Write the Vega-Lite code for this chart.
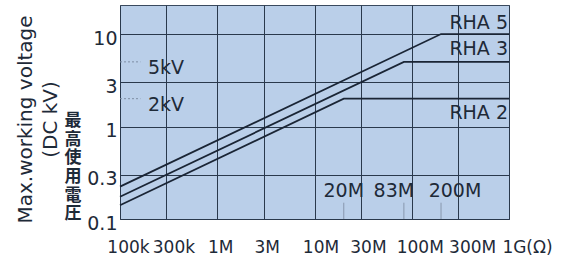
{
  "$schema": "https://vega.github.io/schema/vega-lite/v6.json",
  "width": 389,
  "height": 214,
  "autosize": {"type": "none"},
  "padding": {"left": 120, "top": 5, "right": 57, "bottom": 40},
  "background": "white",
  "config": {
    "view": {"fill": "#bacfe9", "stroke": "#3a4a5e", "strokeWidth": 1},
    "font": "DejaVu Sans",
    "text": {"font": "DejaVu Sans", "fontSize": 19, "color": "#1e2a38"}
  },
  "datasets": {
    "lines": [
      {"series": "RHA 5", "R": 100000, "V": 0.224},
      {"series": "RHA 5", "R": 200000000, "V": 10},
      {"series": "RHA 5", "R": 1000000000, "V": 10},
      {"series": "RHA 3", "R": 100000, "V": 0.174},
      {"series": "RHA 3", "R": 83000000, "V": 5},
      {"series": "RHA 3", "R": 1000000000, "V": 5},
      {"series": "RHA 2", "R": 100000, "V": 0.141},
      {"series": "RHA 2", "R": 20000000, "V": 2},
      {"series": "RHA 2", "R": 1000000000, "V": 2}
    ],
    "knees": [
      {"R": 20000000, "label": "20M"},
      {"R": 83000000, "label": "83M"},
      {"R": 200000000, "label": "200M"}
    ],
    "levels": [
      {"kv": 5, "label": "5kV"},
      {"kv": 2, "label": "2kV"}
    ]
  },
  "layer": [
    {
      "data": {"name": "lines"},
      "mark": {"type": "line", "color": "#1a2535", "strokeWidth": 1.8},
      "encoding": {
        "x": {
          "field": "R", "type": "quantitative",
          "scale": {"type": "log", "domain": [100000, 1000000000], "nice": false},
          "axis": {
            "title": null,
            "values": [100000, 300000, 1000000, 3000000, 10000000, 30000000, 100000000, 300000000, 1000000000],
            "labelExpr": "datum.value < 2e5 ? '100k' : datum.value < 5e5 ? '300k' : datum.value < 2e6 ? '1M' : datum.value < 5e6 ? '3M' : datum.value < 2e7 ? '10M' : datum.value < 5e7 ? '30M' : datum.value < 2e8 ? '100M' : datum.value < 5e8 ? '300M' : '1G(Ω)'",
            "grid": true, "gridColor": "#2a394c", "gridWidth": 1,
            "ticks": false, "tickSize": 0, "domain": false,
            "labelFlush": false, "labelOverlap": false, "labelBound": false,
            "labelFont": "DejaVu Sans", "labelFontSize": 17, "labelColor": "#1e2a38",
            "labelPadding": 28, "labelBaseline": "middle",
            "labelOffset": {
              "condition": [
                {"test": "datum.value < 2e5", "value": 8},
                {"test": "datum.value < 5e5", "value": 7},
                {"test": "datum.value < 5e6", "value": 3},
                {"test": "datum.value < 2e7", "value": 6},
                {"test": "datum.value < 5e7", "value": 7},
                {"test": "datum.value < 2e8", "value": 8},
                {"test": "datum.value < 5e8", "value": 14}
              ],
              "value": 18
            }
          }
        },
        "y": {
          "field": "V", "type": "quantitative",
          "scale": {"type": "log", "domain": [0.1, 20.6], "nice": false},
          "axis": {
            "title": ["Max.working voltage", "(DC kV)"],
            "values": [0.1, 0.3, 1, 3, 10],
            "labelExpr": "datum.value < 0.2 ? '0.1' : datum.value < 0.5 ? '0.3' : datum.value < 2 ? '1' : datum.value < 5 ? '3' : '10'",
            "grid": true, "gridColor": "#2a394c", "gridWidth": 1,
            "ticks": false, "tickSize": 0, "domain": false,
            "labelFlush": false, "labelOverlap": false, "labelBound": false,
            "labelFont": "DejaVu Sans", "labelFontSize": 19, "labelColor": "#1e2a38",
            "labelPadding": 3, "labelOffset": 4,
            "titleFont": "DejaVu Sans", "titleFontSize": 20, "titleFontWeight": "normal",
            "titleColor": "#1e2a38", "titleX": -95, "titleY": 114, "titleAngle": -90,
            "titleAlign": "center", "titleBaseline": "middle", "titleLineHeight": 25
          }
        },
        "detail": {"field": "series"}
      }
    },
    {
      "data": {"name": "knees"},
      "mark": {"type": "rule", "color": "#8797ad", "strokeWidth": 1},
      "encoding": {
        "x": {"field": "R", "type": "quantitative"},
        "y": {"datum": 0.1},
        "y2": {"datum": 0.15}
      }
    },
    {
      "data": {"name": "knees"},
      "mark": {"type": "text", "align": "center", "baseline": "middle",
               "dx": {"expr": "datum.label == '83M' ? -10 : datum.label == '200M' ? 14 : 0"}},
      "encoding": {
        "x": {"field": "R", "type": "quantitative"},
        "y": {"datum": 0.2},
        "text": {"field": "label"}
      }
    },
    {
      "data": {"name": "levels"},
      "mark": {"type": "rule", "color": "#7e8ea4", "strokeWidth": 1, "strokeDash": [2, 2]},
      "encoding": {
        "x": {"datum": 100000},
        "x2": {"datum": 162000},
        "y": {"field": "kv", "type": "quantitative"}
      }
    },
    {
      "data": {"name": "levels"},
      "mark": {"type": "text", "align": "left", "baseline": "middle", "dx": 28, "dy": 6},
      "encoding": {
        "x": {"datum": 100000},
        "y": {"field": "kv", "type": "quantitative"},
        "text": {"field": "label"}
      }
    },
    {
      "data": {"name": "lines"},
      "transform": [{"filter": "datum.R >= 1e9"}],
      "mark": {"type": "text", "align": "right", "baseline": "middle", "dx": -1,
               "dy": {"expr": "datum.series == 'RHA 2' ? 14 : datum.series == 'RHA 3' ? -13 : -11"}},
      "encoding": {
        "x": {"field": "R", "type": "quantitative"},
        "y": {"field": "V", "type": "quantitative"},
        "text": {"field": "series"}
      }
    },
    {
      "data": {"values": [{}]},
      "mark": {"type": "text", "align": "center", "baseline": "middle", "dx": -47,
               "font": "Noto Sans CJK JP", "fontSize": 17, "fontWeight": "bold", "lineHeight": 18.7},
      "encoding": {
        "x": {"datum": 100000},
        "y": {"datum": 1.15},
        "text": {"value": ["最", "高", "使", "用", "電", "圧"]}
      }
    }
  ]
}
